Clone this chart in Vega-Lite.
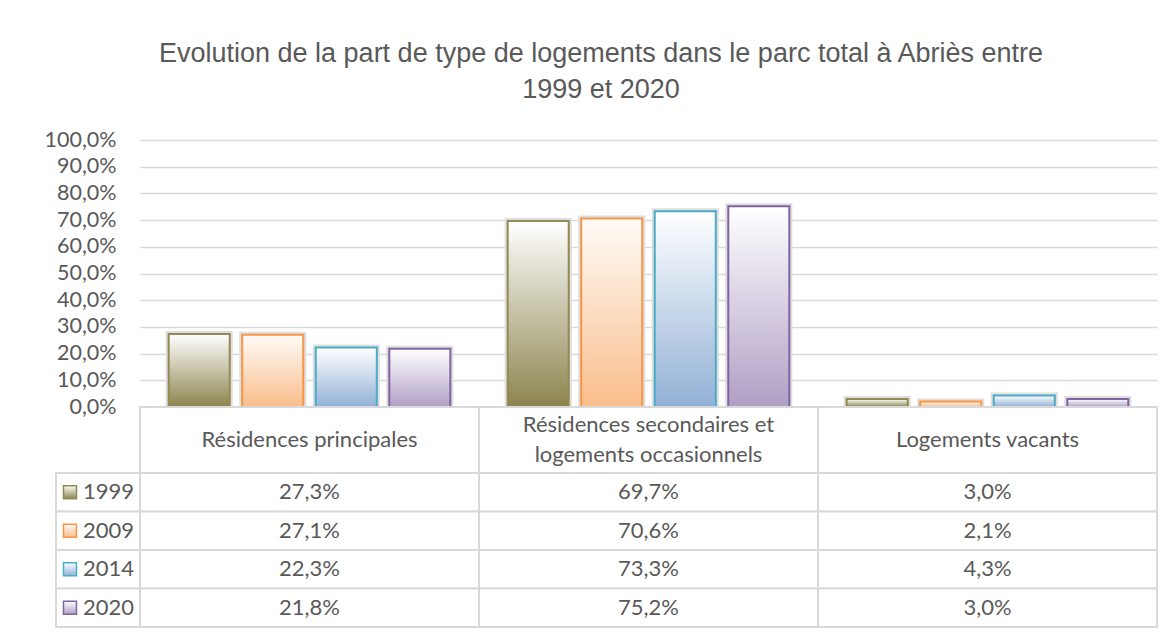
{
  "$schema": "https://vega.github.io/schema/vega-lite/v6.json",
  "background": "white",
  "padding": {"left": 44, "top": 40, "right": 5, "bottom": 0},
  "config": {
    "locale": {"number": {"decimal": ",", "thousands": " ", "grouping": [3], "currency": ["", " €"]}},
    "view": {"stroke": null},
    "font": "Lato"
  },
  "title": {
    "text": ["Evolution de la part de type de logements dans le parc total à Abriès entre", "1999 et 2020"],
    "font": "Liberation Sans",
    "fontSize": 27,
    "fontWeight": "normal",
    "color": "#595959",
    "lineHeight": 36,
    "anchor": "middle",
    "offset": 25
  },
  "datasets": {
    "parc": [
      {"cat": "Résidences principales", "year": "1999", "value": 0.273},
      {"cat": "Résidences principales", "year": "2009", "value": 0.271},
      {"cat": "Résidences principales", "year": "2014", "value": 0.223},
      {"cat": "Résidences principales", "year": "2020", "value": 0.218},
      {"cat": "Résidences secondaires et\nlogements occasionnels", "year": "1999", "value": 0.697},
      {"cat": "Résidences secondaires et\nlogements occasionnels", "year": "2009", "value": 0.706},
      {"cat": "Résidences secondaires et\nlogements occasionnels", "year": "2014", "value": 0.733},
      {"cat": "Résidences secondaires et\nlogements occasionnels", "year": "2020", "value": 0.752},
      {"cat": "Logements vacants", "year": "1999", "value": 0.030},
      {"cat": "Logements vacants", "year": "2009", "value": 0.021},
      {"cat": "Logements vacants", "year": "2014", "value": 0.043},
      {"cat": "Logements vacants", "year": "2020", "value": 0.030}
    ]
  },
  "columns": 2,
  "spacing": 0,
  "bounds": "flush",
  "concat": [
    {
      "width": 84, "height": 267,
      "data": {"values": []},
      "mark": "text"
    },
    {
      "width": 1017, "height": 267,
      "data": {"name": "parc"},
      "encoding": {
        "x": {"field": "cat", "type": "nominal", "sort": null,
              "scale": {"domain": ["Résidences principales", "Résidences secondaires et\nlogements occasionnels", "Logements vacants"], "paddingInner": 0, "paddingOuter": 0},
              "axis": null},
        "xOffset": {"field": "year", "type": "nominal",
                    "scale": {"domain": ["1999", "2009", "2014", "2020"], "paddingInner": 0.17, "paddingOuter": 0.39}},
        "y": {"field": "value", "type": "quantitative",
              "scale": {"domain": [0, 1], "nice": false},
              "axis": {"values": [0, 0.1, 0.2, 0.3, 0.4, 0.5, 0.6, 0.7, 0.8, 0.9, 1], "format": ".1%", "title": null,
                       "domain": false, "ticks": false, "grid": true, "gridColor": "#d9d9d9", "gridWidth": 1.5,
                       "labelFont": "Lato", "labelFontSize": 21.5, "labelColor": "#595959", "labelPadding": 24}}
      },
      "layer": [
        {"mark": {"type": "bar", "fill": "#ffffff", "stroke": "#dedede", "strokeWidth": 6}},
        {"transform": [{"filter": "datum.year == '1999'"}],
         "mark": {"type": "bar", "stroke": "#938953", "strokeWidth": 2,
                  "fill": {"gradient": "linear", "x1": 0, "y1": 1, "x2": 0, "y2": 0, "stops": [{"offset": 0, "color": "#8c844e"}, {"offset": 1, "color": "#ffffff"}]}}},
        {"transform": [{"filter": "datum.year == '2009'"}],
         "mark": {"type": "bar", "stroke": "#f79646", "strokeWidth": 2,
                  "fill": {"gradient": "linear", "x1": 0, "y1": 1, "x2": 0, "y2": 0, "stops": [{"offset": 0, "color": "#f9bd8b"}, {"offset": 1, "color": "#fffcf8"}]}}},
        {"transform": [{"filter": "datum.year == '2014'"}],
         "mark": {"type": "bar", "stroke": "#4bacc6", "strokeWidth": 2,
                  "fill": {"gradient": "linear", "x1": 0, "y1": 1, "x2": 0, "y2": 0, "stops": [{"offset": 0, "color": "#92b1d6"}, {"offset": 1, "color": "#ffffff"}]}}},
        {"transform": [{"filter": "datum.year == '2020'"}],
         "mark": {"type": "bar", "stroke": "#8064a2", "strokeWidth": 2,
                  "fill": {"gradient": "linear", "x1": 0, "y1": 1, "x2": 0, "y2": 0, "stops": [{"offset": 0, "color": "#b09fc5"}, {"offset": 1, "color": "#ffffff"}]}}}
      ]
    },
    {
      "width": 84, "height": 66,
      "data": {"values": []},
      "mark": "text"
    },
    {
      "width": 1017, "height": 66,
      "data": {"name": "parc"},
      "transform": [{"filter": "datum.year == '1999'"}],
      "encoding": {
        "x": {"field": "cat", "type": "nominal", "sort": null,
              "scale": {"domain": ["Résidences principales", "Résidences secondaires et\nlogements occasionnels", "Logements vacants"], "paddingInner": 0, "paddingOuter": 0},
              "axis": null}
      },
      "layer": [
        {"mark": {"type": "rect", "fill": "#ffffff", "stroke": "#d9d9d9", "strokeWidth": 2}},
        {"transform": [{"filter": "indexof(datum.cat, '\\n') < 0"}],
         "mark": {"type": "text", "fontSize": 22, "color": "#595959"},
         "encoding": {"text": {"field": "cat"}}},
        {"transform": [{"filter": "indexof(datum.cat, '\\n') >= 0"}],
         "mark": {"type": "text", "lineBreak": "\n", "fontSize": 22, "lineHeight": 30, "dy": -15, "color": "#595959"},
         "encoding": {"text": {"field": "cat"}}}
      ]
    },
    {
      "width": 84, "height": 154,
      "data": {"name": "parc"},
      "transform": [{"filter": "datum.cat == 'Résidences principales'"}],
      "encoding": {
        "y": {"field": "year", "type": "nominal", "scale": {"domain": ["1999", "2009", "2014", "2020"], "paddingInner": 0, "paddingOuter": 0}, "axis": null}
      },
      "layer": [
        {"mark": {"type": "rect", "fill": "#ffffff", "stroke": "#d9d9d9", "strokeWidth": 2}},
        {"transform": [{"filter": "datum.year == '1999'"}],
         "mark": {"type": "point", "shape": "square", "size": 169, "filled": true, "opacity": 1, "stroke": "#938953", "strokeWidth": 1.5,
                  "fill": {"gradient": "linear", "x1": 0, "y1": 1, "x2": 0, "y2": 0, "stops": [{"offset": 0, "color": "#8c844e"}, {"offset": 1, "color": "#ffffff"}]}},
         "encoding": {"x": {"datum": "sym", "type": "nominal", "scale": {"type": "point", "domain": ["sym", "lab"], "padding": 0.156, "align": 0.7}, "axis": null}}},
        {"transform": [{"filter": "datum.year == '2009'"}],
         "mark": {"type": "point", "shape": "square", "size": 169, "filled": true, "opacity": 1, "stroke": "#f79646", "strokeWidth": 1.5,
                  "fill": {"gradient": "linear", "x1": 0, "y1": 1, "x2": 0, "y2": 0, "stops": [{"offset": 0, "color": "#f9bd8b"}, {"offset": 1, "color": "#fffcf8"}]}},
         "encoding": {"x": {"datum": "sym", "type": "nominal", "scale": {"type": "point", "domain": ["sym", "lab"], "padding": 0.156, "align": 0.7}, "axis": null}}},
        {"transform": [{"filter": "datum.year == '2014'"}],
         "mark": {"type": "point", "shape": "square", "size": 169, "filled": true, "opacity": 1, "stroke": "#4bacc6", "strokeWidth": 1.5,
                  "fill": {"gradient": "linear", "x1": 0, "y1": 1, "x2": 0, "y2": 0, "stops": [{"offset": 0, "color": "#92b1d6"}, {"offset": 1, "color": "#ffffff"}]}},
         "encoding": {"x": {"datum": "sym", "type": "nominal", "scale": {"type": "point", "domain": ["sym", "lab"], "padding": 0.156, "align": 0.7}, "axis": null}}},
        {"transform": [{"filter": "datum.year == '2020'"}],
         "mark": {"type": "point", "shape": "square", "size": 169, "filled": true, "opacity": 1, "stroke": "#8064a2", "strokeWidth": 1.5,
                  "fill": {"gradient": "linear", "x1": 0, "y1": 1, "x2": 0, "y2": 0, "stops": [{"offset": 0, "color": "#b09fc5"}, {"offset": 1, "color": "#ffffff"}]}},
         "encoding": {"x": {"datum": "sym", "type": "nominal", "scale": {"type": "point", "domain": ["sym", "lab"], "padding": 0.156, "align": 0.7}, "axis": null}}},
        {"mark": {"type": "text", "align": "right", "fontSize": 22, "color": "#595959"},
         "encoding": {"x": {"datum": "lab", "type": "nominal", "scale": {"type": "point", "domain": ["sym", "lab"], "padding": 0.156, "align": 0.7}, "axis": null},
                      "text": {"field": "year"}}}
      ]
    },
    {
      "width": 1017, "height": 154,
      "data": {"name": "parc"},
      "encoding": {
        "x": {"field": "cat", "type": "nominal", "sort": null,
              "scale": {"domain": ["Résidences principales", "Résidences secondaires et\nlogements occasionnels", "Logements vacants"], "paddingInner": 0, "paddingOuter": 0},
              "axis": null},
        "y": {"field": "year", "type": "nominal", "scale": {"domain": ["1999", "2009", "2014", "2020"], "paddingInner": 0, "paddingOuter": 0}, "axis": null}
      },
      "layer": [
        {"mark": {"type": "rect", "fill": "#ffffff", "stroke": "#d9d9d9", "strokeWidth": 2}},
        {"mark": {"type": "text", "fontSize": 22, "color": "#595959"},
         "encoding": {"text": {"field": "value", "type": "quantitative", "format": ".1%"}}}
      ]
    }
  ]
}
